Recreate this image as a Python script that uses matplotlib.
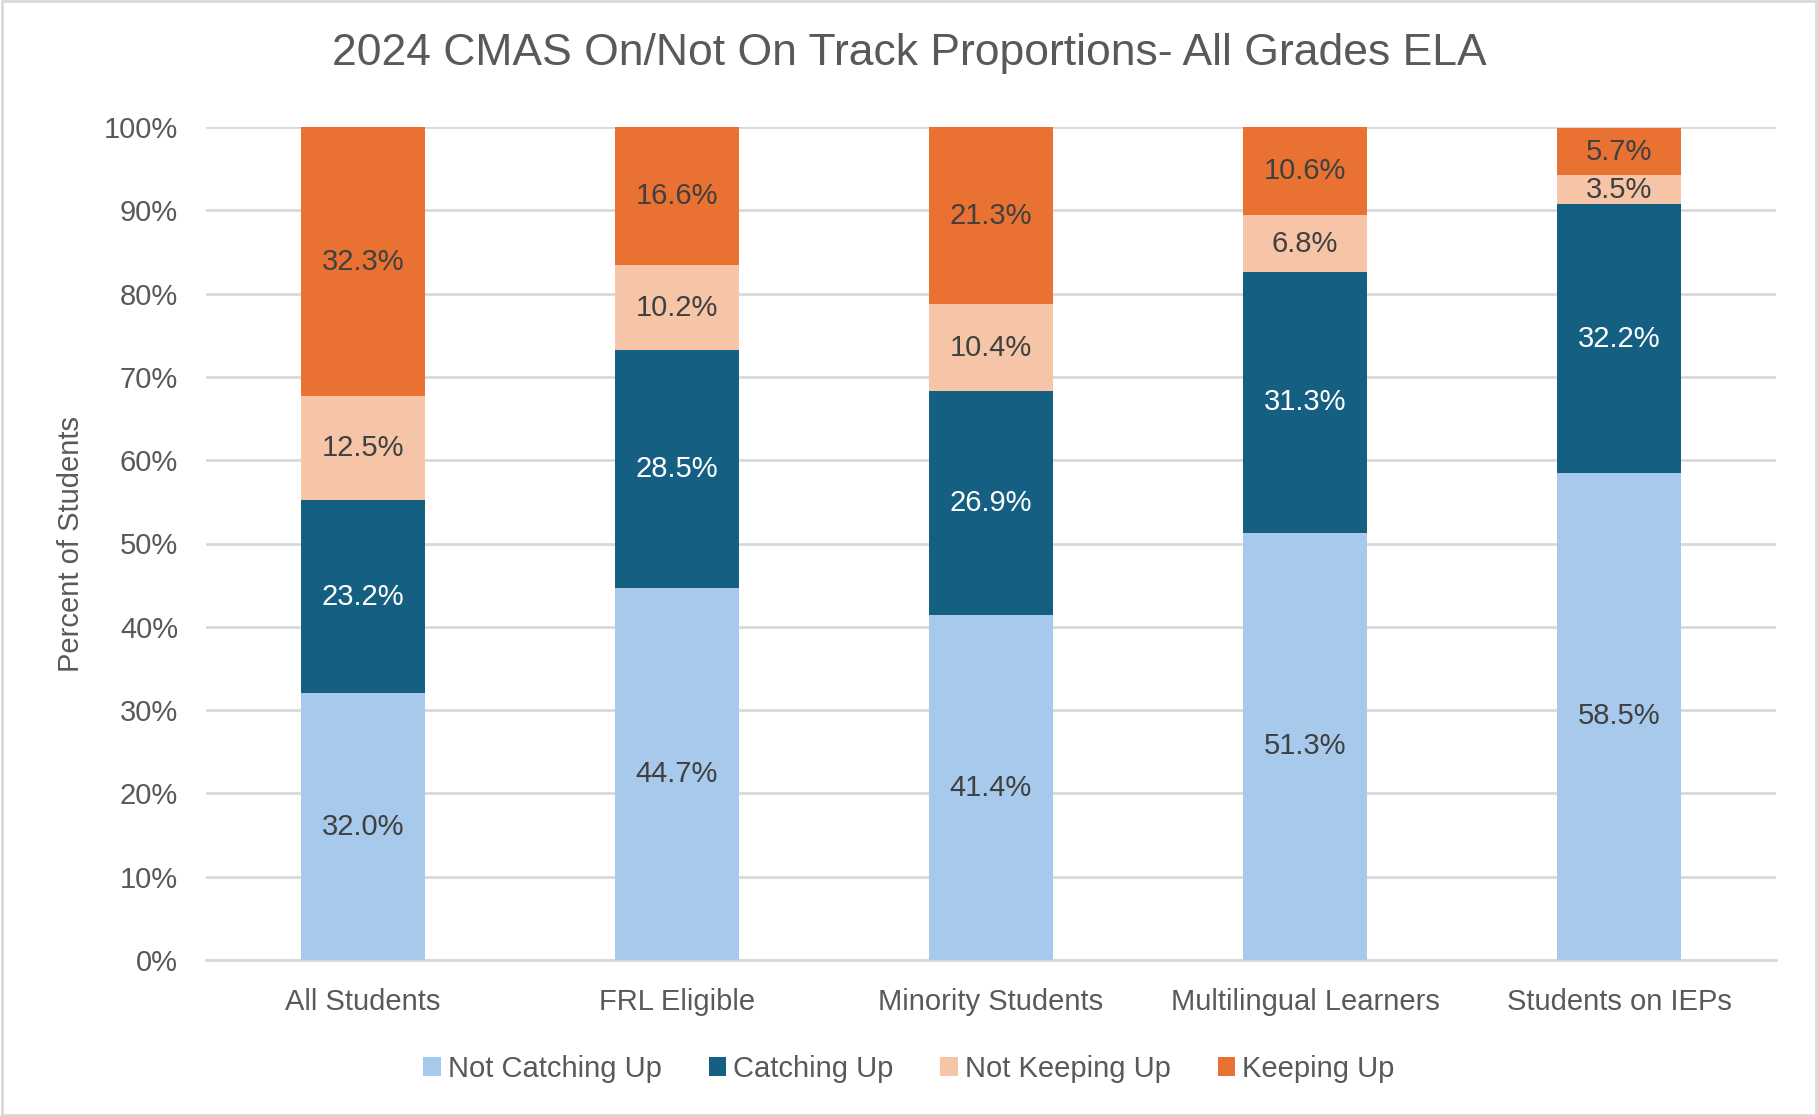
import numpy as np
import matplotlib.pyplot as plt
from matplotlib.patches import Rectangle

plt.rcParams['font.family'] = ['Liberation Sans', 'DejaVu Sans']

groups = ['All Students', 'FRL Eligible', 'Minority Students', 'Multilingual Learners', 'Students on IEPs']
series = ['Not Catching Up', 'Catching Up', 'Not Keeping Up', 'Keeping Up']
not_catching_up = [32.0, 44.7, 41.4, 51.3, 58.5]
catching_up = [23.2, 28.5, 26.9, 31.3, 32.2]
not_keeping_up = [12.5, 10.2, 10.4, 6.8, 3.5]
keeping_up = [32.3, 16.6, 21.3, 10.6, 5.7]

colors = ['#A6C9EC', '#156082', '#F6C4A6', '#E97132']
label_colors = ['#404040', 'white', '#404040', '#404040']
text_gray = '#595959'

fig = plt.figure(figsize=(18.18, 11.16), dpi=100)
ax = fig.add_axes([206 / 1818, 1 - 960 / 1116, 1570 / 1818, 833 / 1116])

x = np.arange(len(groups))
bottom = np.zeros(len(groups))
for name, vals, c, lc in zip(series, [not_catching_up, catching_up, not_keeping_up, keeping_up],
                             colors, label_colors):
    vals = np.array(vals)
    ax.bar(x, vals, 0.395, bottom=bottom, color=c, label=name, zorder=3)
    for xi, b, v in zip(x, bottom, vals):
        ax.text(xi, b + v / 2, f'{v:.1f}%', ha='center', va='center',
                fontsize=21, color=lc, zorder=4)
    bottom += vals

ax.set_xlim(-0.5, 4.5)
ax.set_ylim(0, 100)
ax.set_yticks(np.arange(0, 101, 10))
ax.set_yticklabels([f'{t}%' for t in range(0, 101, 10)])
ax.set_xticks(x)
ax.set_xticklabels(groups)
ax.tick_params(axis='both', length=0, labelsize=21, labelcolor=text_gray)
ax.tick_params(axis='x', pad=20)
ax.tick_params(axis='y', pad=20)
ax.grid(axis='y', color='#D9D9D9', linewidth=2, zorder=0)
for s in ['top', 'right', 'left']:
    ax.spines[s].set_visible(False)
ax.spines['bottom'].set_color('#D9D9D9')
ax.spines['bottom'].set_linewidth(2)

ax.set_ylabel('Percent of Students', fontsize=21, color=text_gray, labelpad=14)

fig.text(0.5, 1 - 54 / 1116, '2024 CMAS On/Not On Track Proportions- All Grades ELA',
         ha='center', va='center', fontsize=32, color=text_gray)

fig.legend(loc='center', bbox_to_anchor=(0.5, 1 - 1069 / 1116), ncol=4, frameon=False,
           fontsize=21, labelcolor=text_gray, handlelength=0.6, handleheight=0.6,
           handletextpad=0.25, columnspacing=1.6)

fig.patches.append(Rectangle((0.001, 0.001), 0.998, 0.998, transform=fig.transFigure,
                             fill=False, edgecolor='#D9D9D9', linewidth=2))

fig.savefig('out.png', dpi=100)
